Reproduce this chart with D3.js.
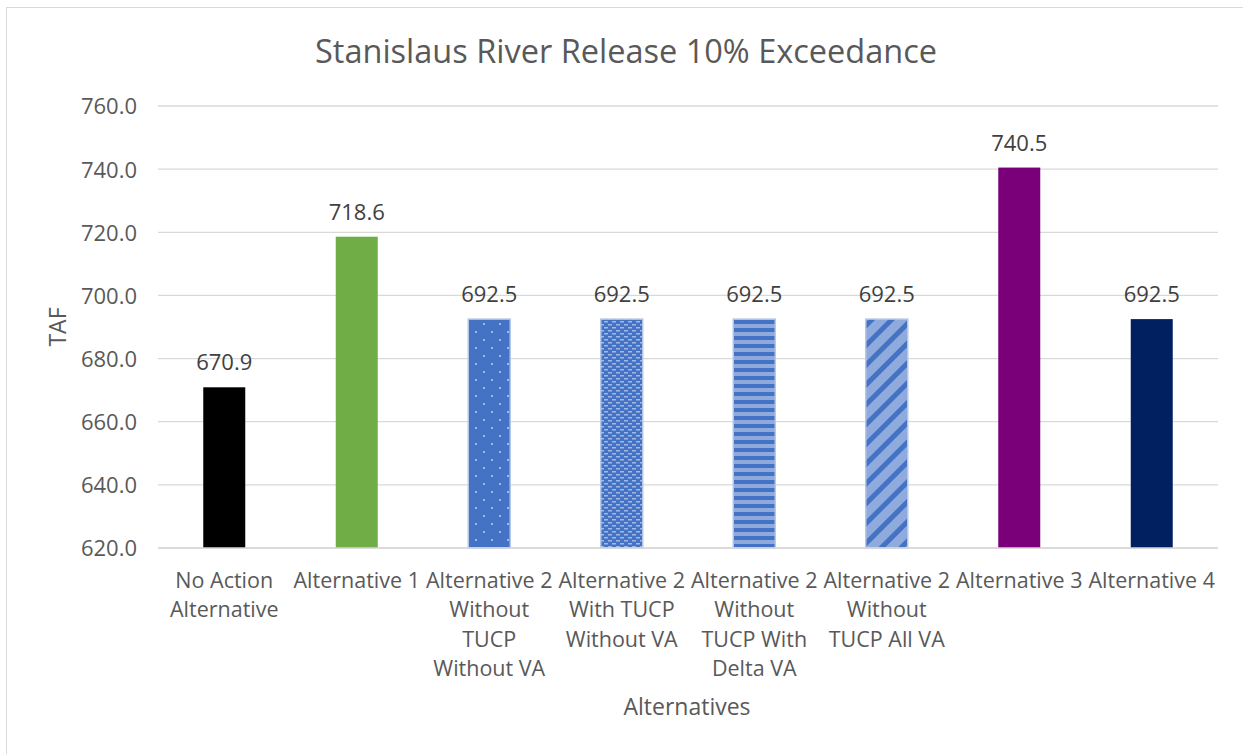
<!DOCTYPE html>
<html>
<head>
<meta charset="utf-8">
<script src="https://cdn.jsdelivr.net/npm/d3@7"></script>
<style>
  body { margin: 0; background: #fff; }
  text { font-family: "Open Sans", "Noto Sans", sans-serif; }
</style>
</head>
<body>
<div id="chart"></div>
<script>
var width = 1243, height = 754;
var margin = { top: 106, right: 25, bottom: 206, left: 158 };

var categories = ['No Action Alternative', 'Alternative 1', 'Alternative 2 Without TUCP Without VA',
  'Alternative 2 With TUCP Without VA', 'Alternative 2 Without TUCP With Delta VA',
  'Alternative 2 Without TUCP All VA', 'Alternative 3', 'Alternative 4'];
var labelLines = [
  ['No Action', 'Alternative'],
  ['Alternative 1'],
  ['Alternative 2', 'Without', 'TUCP', 'Without VA'],
  ['Alternative 2', 'With TUCP', 'Without VA'],
  ['Alternative 2', 'Without', 'TUCP With', 'Delta VA'],
  ['Alternative 2', 'Without', 'TUCP All VA'],
  ['Alternative 3'],
  ['Alternative 4']
];
var values = [670.9, 718.6, 692.5, 692.5, 692.5, 692.5, 740.5, 692.5];
var yTicks = [620, 640, 660, 680, 700, 720, 740, 760];
var fills = ['#000000', '#70AD47', 'url(#pDots)', 'url(#pGrid)', 'url(#pHoriz)', 'url(#pDiag)', '#7A007A', '#002060'];

var svg = d3.select('#chart')
  .append('svg')
  .attr('width', width)
  .attr('height', height);

// chart border
svg.append('rect')
  .attr('x', 6.5).attr('y', 7.5)
  .attr('width', width + 20).attr('height', height + 20)
  .attr('fill', '#fff')
  .attr('stroke', '#d9d9d9');

var defs = svg.append('defs');

// dotted pattern
var p1 = defs.append('pattern').attr('id', 'pDots').attr('patternUnits', 'userSpaceOnUse')
  .attr('width', 16).attr('height', 16);
p1.append('rect').attr('width', 16).attr('height', 16).attr('fill', '#4472C4');
p1.append('rect').attr('x', 3).attr('y', 3).attr('width', 2).attr('height', 2).attr('fill', '#9fb6e2');
p1.append('rect').attr('x', 11).attr('y', 11).attr('width', 2).attr('height', 2).attr('fill', '#9fb6e2');

// small dash grid pattern
var p2 = defs.append('pattern').attr('id', 'pGrid').attr('patternUnits', 'userSpaceOnUse')
  .attr('width', 8).attr('height', 6);
p2.append('rect').attr('width', 8).attr('height', 6).attr('fill', '#4472C4');
p2.append('rect').attr('x', 0).attr('y', 0).attr('width', 4).attr('height', 1.5).attr('fill', '#a3b9e3');
p2.append('rect').attr('x', 4).attr('y', 3).attr('width', 4).attr('height', 1.5).attr('fill', '#a3b9e3');

// horizontal stripes
var p3 = defs.append('pattern').attr('id', 'pHoriz').attr('patternUnits', 'userSpaceOnUse')
  .attr('width', 8).attr('height', 8);
p3.append('rect').attr('width', 8).attr('height', 8).attr('fill', '#4472C4');
p3.append('rect').attr('y', 4).attr('width', 8).attr('height', 4).attr('fill', '#8eaadc');

// wide diagonal stripes
var p4 = defs.append('pattern').attr('id', 'pDiag').attr('patternUnits', 'userSpaceOnUse')
  .attr('width', 14).attr('height', 14)
  .attr('patternTransform', 'rotate(45)');
p4.append('rect').attr('width', 14).attr('height', 14).attr('fill', '#8FAADC');
p4.append('rect').attr('width', 5).attr('height', 14).attr('fill', '#4472C4');

var xScale = d3.scaleBand()
  .domain(categories)
  .range([margin.left, width - margin.right]);

var yScale = d3.scaleLinear()
  .domain([620, 760])
  .range([height - margin.bottom, margin.top]);

// gridlines
svg.append('g')
  .selectAll('line')
  .data(yTicks)
  .enter()
  .append('line')
  .attr('x1', margin.left)
  .attr('x2', width - margin.right)
  .attr('y1', function (d) { return yScale(d); })
  .attr('y2', function (d) { return yScale(d); })
  .attr('stroke', '#d9d9d9')
  .attr('stroke-width', 1.3);

// y tick labels
var yAxis = d3.axisLeft(yScale)
  .tickValues(yTicks)
  .tickSize(0)
  .tickPadding(21)
  .tickFormat(d3.format('.1f'));

var yAxisG = svg.append('g')
  .attr('transform', 'translate(' + margin.left + ',0)')
  .call(yAxis);
yAxisG.select('.domain').remove();
yAxisG.selectAll('text')
  .attr('fill', '#595959')
  .attr('dy', '0.36em')
  .style('font-size', '22px')
  .style('font-family', '"Open Sans", "Noto Sans", sans-serif');

var barW = 42;

svg.selectAll('.bar')
  .data(values)
  .enter()
  .append('rect')
  .attr('class', 'bar')
  .attr('x', function (d, i) { return xScale(categories[i]) + xScale.bandwidth() / 2 - barW / 2; })
  .attr('y', function (d) { return yScale(d); })
  .attr('width', barW)
  .attr('height', function (d) { return yScale(620) - yScale(d); })
  .attr('fill', function (d, i) { return fills[i]; })
  .attr('stroke', function (d, i) { return (i >= 2 && i <= 5) ? '#b4c7e7' : 'none'; })
  .attr('stroke-width', 1.5);

// baseline over bars
svg.append('line')
  .attr('x1', margin.left)
  .attr('x2', width - margin.right)
  .attr('y1', yScale(620))
  .attr('y2', yScale(620))
  .attr('stroke', '#d9d9d9')
  .attr('stroke-width', 1.3);

// data labels
svg.selectAll('.dlabel')
  .data(values)
  .enter()
  .append('text')
  .attr('class', 'dlabel')
  .attr('x', function (d, i) { return xScale(categories[i]) + xScale.bandwidth() / 2; })
  .attr('y', function (d) { return yScale(d) - 17; })
  .attr('text-anchor', 'middle')
  .attr('fill', '#404040')
  .style('font-size', '22px')
  .text(function (d) { return d3.format('.1f')(d); });

// category labels
var catG = svg.selectAll('.cat')
  .data(labelLines)
  .enter()
  .append('text')
  .attr('class', 'cat')
  .attr('text-anchor', 'middle')
  .attr('fill', '#595959')
  .style('font-size', '21.5px');

catG.selectAll('tspan')
  .data(function (d, i) { return d.map(function (s) { return { s: s, i: i }; }); })
  .enter()
  .append('tspan')
  .attr('x', function (d) { return xScale(categories[d.i]) + xScale.bandwidth() / 2; })
  .attr('y', function (d, j) { return yScale(620) + 40 + j * 29.3; })
  .text(function (d) { return d.s; });

// title
svg.append('text')
  .attr('x', 626)
  .attr('y', 63)
  .attr('text-anchor', 'middle')
  .attr('fill', '#595959')
  .style('font-size', '32.5px')
  .text('Stanislaus River Release 10% Exceedance');

// axis titles
svg.append('text')
  .attr('transform', 'translate(66,' + 327 + ') rotate(-90)')
  .attr('text-anchor', 'middle')
  .attr('fill', '#595959')
  .style('font-size', '23px')
  .text('TAF');

svg.append('text')
  .attr('x', 687)
  .attr('y', 715)
  .attr('text-anchor', 'middle')
  .attr('fill', '#595959')
  .style('font-size', '23px')
  .text('Alternatives');
</script>
</body>
</html>
